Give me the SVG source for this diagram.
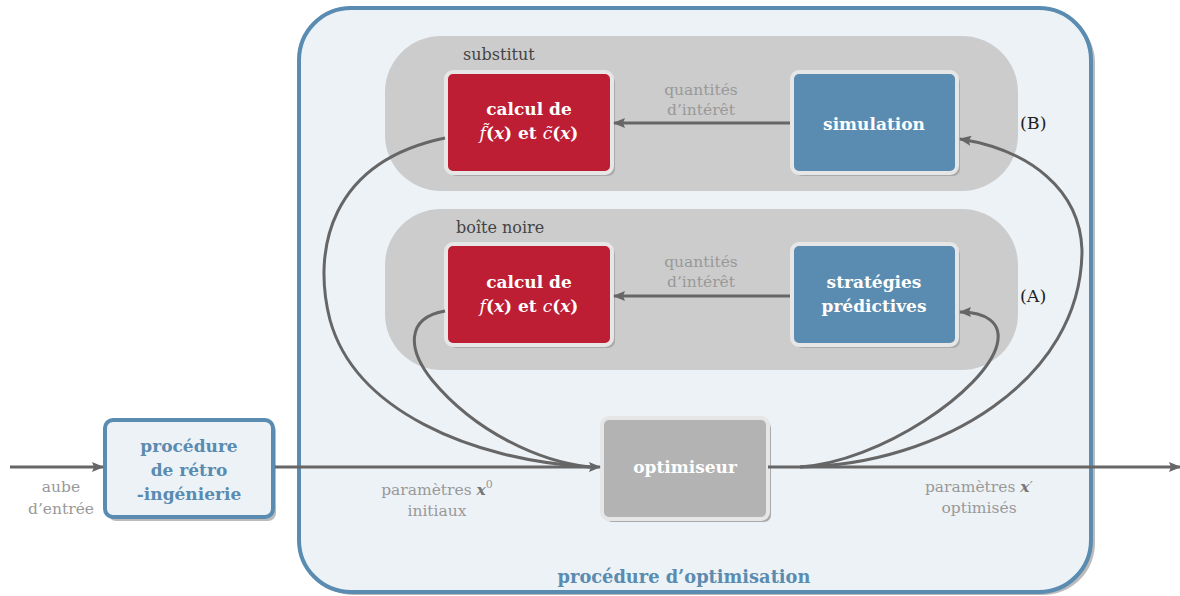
<svg xmlns="http://www.w3.org/2000/svg" width="1180" height="596" viewBox="0 0 1180 596">
<defs>
<marker id="ah" viewBox="0 0 12 10" refX="11" refY="5" markerWidth="12" markerHeight="10" markerUnits="userSpaceOnUse" orient="auto">
<path d="M0,0 L12,5 L0,10 L2,5 Z" fill="#666"/>
</marker>
<style>
text{font-family:"DejaVu Serif","Liberation Serif",serif}
.lbl{font-size:15.5px;fill:#999;text-anchor:middle}
.dark{font-size:16px;fill:#444}
.tag{font-size:17.5px;fill:#222}
.bt{font-size:17px;font-weight:bold;fill:#fff;text-anchor:middle}
.blue{font-size:17px;font-weight:bold;fill:#5a8bb0;text-anchor:middle}
.title{font-size:17.8px}
.box{stroke:#e6e6e6;stroke-width:4}
.sh{fill:#aaa}
.red{fill:#be1e33}
.bl{fill:#5a8bb0}
.edge{fill:none;stroke:#666;stroke-width:3}
.mi{font-style:italic;font-weight:normal}
.mb{font-style:italic;font-weight:bold}
</style>
</defs>
<rect width="1180" height="596" fill="#fff"/>
<g id="optim-proc">
<rect x="302" y="11" width="793" height="584" rx="52" fill="#bbb"/>
<rect x="299" y="8" width="792" height="584" rx="52" fill="#edf2f7" stroke="#5a8bb0" stroke-width="4"/>
<text class="blue title" x="684" y="583">procédure d’optimisation</text>
</g>
<g id="substitut">
<rect x="385" y="36" width="633" height="155" rx="56" fill="#ccc"/>
<text class="dark" x="463" y="60">substitut</text>
<text class="tag" x="1020" y="129">(B)</text>
</g>
<g id="boite-noire">
<rect x="385" y="209" width="633" height="161" rx="56" fill="#ccc"/>
<text class="dark" x="456" y="233">boîte noire</text>
<text class="tag" x="1020" y="302">(A)</text>
</g>
<g id="calc-sub">
<rect class="sh" x="449" y="75" width="166" height="101" rx="7"/>
<rect class="red box" x="446" y="72" width="166" height="101" rx="7"/>
<text class="bt" x="529" y="115">calcul de</text>
<text class="bt" x="529" y="139"><tspan class="mi">f̃</tspan>(<tspan class="mb">x</tspan>) et <tspan class="mi">c̃</tspan>(<tspan class="mb">x</tspan>)</text>
</g>
<g id="simulation">
<rect class="sh" x="795" y="75" width="165" height="101" rx="7"/>
<rect class="bl box" x="792" y="72" width="165" height="101" rx="7"/>
<text class="bt" x="874" y="130">simulation</text>
</g>
<g id="calc-bn">
<rect class="sh" x="449" y="247" width="166" height="101" rx="7"/>
<rect class="red box" x="446" y="244" width="166" height="101" rx="7"/>
<text class="bt" x="529" y="288">calcul de</text>
<text class="bt" x="529" y="312"><tspan class="mi">f</tspan>(<tspan class="mb">x</tspan>) et <tspan class="mi">c</tspan>(<tspan class="mb">x</tspan>)</text>
</g>
<g id="strategies">
<rect class="sh" x="795" y="247" width="165" height="101" rx="7"/>
<rect class="bl box" x="792" y="244" width="165" height="101" rx="7"/>
<text class="bt" x="874" y="288">stratégies</text>
<text class="bt" x="874" y="312">prédictives</text>
</g>
<g id="optimiseur">
<rect class="sh" x="605" y="421" width="166" height="101" rx="7"/>
<rect class="box" fill="#b3b3b3" x="602" y="418" width="166" height="101" rx="7"/>
<text class="bt" x="685" y="473">optimiseur</text>
</g>
<g id="retro">
<rect x="108" y="423" width="168" height="98" rx="8" fill="#bbb"/>
<rect x="105" y="420" width="168" height="97" rx="8" fill="#edf2f7" stroke="#5a8bb0" stroke-width="4"/>
<text class="blue" x="189" y="452">procédure</text>
<text class="blue" x="189" y="476">de rétro</text>
<text class="blue" x="189" y="500">-ingénierie</text>
</g>
<g id="connectors">
<line class="edge" x1="10" y1="467" x2="103" y2="467" marker-end="url(#ah)"/>
<line class="edge" x1="275" y1="467" x2="600" y2="467" marker-end="url(#ah)"/>
<line class="edge" x1="768" y1="467" x2="1180" y2="467" marker-end="url(#ah)"/>
<line class="edge" x1="790" y1="123" x2="614" y2="123" marker-end="url(#ah)"/>
<line class="edge" x1="790" y1="296" x2="614" y2="296" marker-end="url(#ah)"/>
<path class="edge" d="M445,138 C330,162 312,250 330,320 C355,410 470,460 590,467"/>
<path class="edge" d="M445,311 C405,318 408,350 432,380 C475,432 540,462 590,467"/>
<path class="edge" d="M800,467 C940,465 1082,380 1082,250 C1080,190 1030,150 960,139" marker-end="url(#ah)"/>
<path class="edge" d="M800,467 C880,462 985,390 997,345 C1003,322 985,312 960,312" marker-end="url(#ah)"/>
</g>
<g id="labels">
<text class="lbl" x="701" y="95">quantités</text>
<text class="lbl" x="701" y="115">d’intérêt</text>
<text class="lbl" x="701" y="267">quantités</text>
<text class="lbl" x="701" y="287">d’intérêt</text>
<text class="lbl" x="61" y="492">aube</text>
<text class="lbl" x="61" y="514">d’entrée</text>
<text class="lbl" x="437" y="495">paramètres <tspan font-style="italic" font-weight="bold" fill="#777">x</tspan><tspan font-size="11" dy="-7">0</tspan></text>
<text class="lbl" x="437" y="516">initiaux</text>
<text class="lbl" x="979" y="492">paramètres <tspan font-style="italic" font-weight="bold" fill="#777">x</tspan>′</text>
<text class="lbl" x="979" y="513">optimisés</text>
</g>
</svg>
